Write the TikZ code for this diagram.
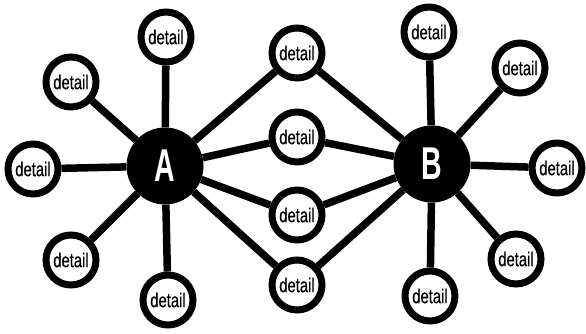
\documentclass[tikz,border=0pt]{standalone}
\usepackage{fontspec}
\newfontfamily\condfont[FakeStretch=0.74,FakeBold=0.5]{Liberation Sans}
\newfontfamily\condbold[FakeStretch=0.62]{Liberation Sans Bold}
\begin{document}
\begin{tikzpicture}[x=1pt,y=-1pt,
  hub/.style={circle,fill=black,minimum size=77pt,inner sep=0pt,text=white,font=\condbold\fontsize{46}{46}\selectfont},
  detailnode/.style={circle,draw=black,line width=7pt,fill=white,minimum size=50pt,inner sep=0pt,font=\condfont\fontsize{20}{20}\selectfont},
  link/.style={line width=7.5pt,black}]
\useasboundingbox (0,0) rectangle (586,334);
\node[hub] (A) at (165,166) {A};
\node[hub] (B) at (432,164) {B};
\node[detailnode] (L1) at (166,37) {detail};
\node[detailnode] (L2) at (71,82) {detail};
\node[detailnode] (L3) at (33,169) {detail};
\node[detailnode] (L4) at (71,260) {detail};
\node[detailnode] (L5) at (168,300) {detail};
\node[detailnode] (M1) at (297,53) {detail};
\node[detailnode] (M2) at (297,137) {detail};
\node[detailnode] (M3) at (297,215) {detail};
\node[detailnode] (M4) at (297,285) {detail};
\node[detailnode] (R1) at (429,32) {detail};
\node[detailnode] (R2) at (520,68) {detail};
\node[detailnode] (R3) at (557,168) {detail};
\node[detailnode] (R4) at (516,259) {detail};
\node[detailnode] (R5) at (430,296) {detail};
\foreach \n in {L1,L2,L3,L4,L5,M1,M2,M3,M4}{\draw[link] (A) -- (\n);}
\foreach \n in {R1,R2,R3,R4,R5,M1,M2,M3,M4}{\draw[link] (B) -- (\n);}
\end{tikzpicture}
\end{document}
